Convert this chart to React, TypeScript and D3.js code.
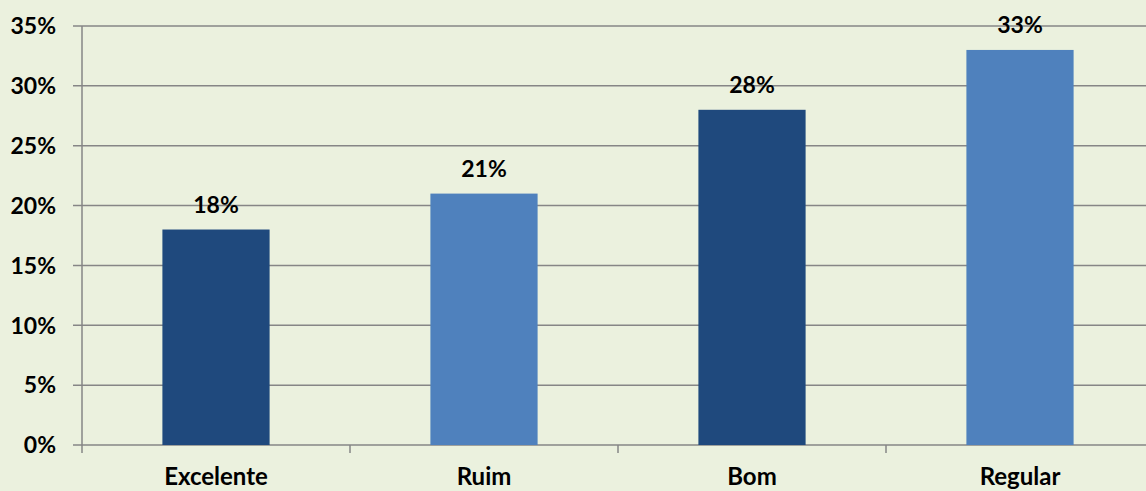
import React from "react";
import * as d3 from "d3";

const categories = ["Excelente", "Ruim", "Bom", "Regular"];
const values = [18, 21, 28, 33];
const yTicks = [0, 5, 10, 15, 20, 25, 30, 35];
const barColors = ["#1F497D", "#4F81BD", "#1F497D", "#4F81BD"];

const W = 1146;
const H = 491;
const left = 82;
const top = 26;
const bottom = 445;
const band = 268;

export default function App() {
  const x = d3
    .scaleBand<string>()
    .domain(categories)
    .range([left, left + band * categories.length])
    .paddingInner(0.6)
    .paddingOuter(0.3);
  const y = d3.scaleLinear().domain([0, 35]).range([bottom, top]);
  const font = "Lato, 'Open Sans', sans-serif";
  const fs = 24;

  return (
    <svg
      width={W}
      height={H}
      style={{ position: "absolute", left: 0, top: 0, background: "#EBF1DE" }}
      fontFamily={font}
    >
      <rect width={W} height={H} fill="#EBF1DE" />
      {yTicks.map((t) => (
        <g key={t}>
          <line x1={left - 9} x2={W} y1={y(t)} y2={y(t)} stroke="#868686" strokeWidth={1.5} />
          <text
            x={56}
            y={y(t)}
            dy="0.36em"
            textAnchor="end"
            fontSize={fs - 1}
            fontWeight="bold"
            fill="#000"
          >
            {t}%
          </text>
        </g>
      ))}
      <line x1={left} x2={left} y1={top} y2={bottom + 8} stroke="#868686" strokeWidth={1.5} />
      {categories.map((c, i) => (
        <line
          key={c}
          x1={left + band * (i + 1)}
          x2={left + band * (i + 1)}
          y1={bottom}
          y2={bottom + 8}
          stroke="#868686"
          strokeWidth={1.5}
        />
      ))}
      {categories.map((c, i) => {
        const bx = x(c)!;
        const bw = x.bandwidth();
        return (
          <g key={c}>
            <rect
              x={bx}
              y={y(values[i])}
              width={bw}
              height={bottom - y(values[i])}
              fill={barColors[i]}
            />
            <text
              x={bx + bw / 2}
              y={y(values[i]) - 17}
              textAnchor="middle"
              fontSize={fs - 1}
              fontWeight="bold"
              fill="#000"
            >
              {values[i]}%
            </text>
            <text
              x={bx + bw / 2}
              y={485}
              textAnchor="middle"
              fontSize={fs}
              fontWeight="bold"
              fill="#000"
            >
              {c}
            </text>
          </g>
        );
      })}
    </svg>
  );
}
